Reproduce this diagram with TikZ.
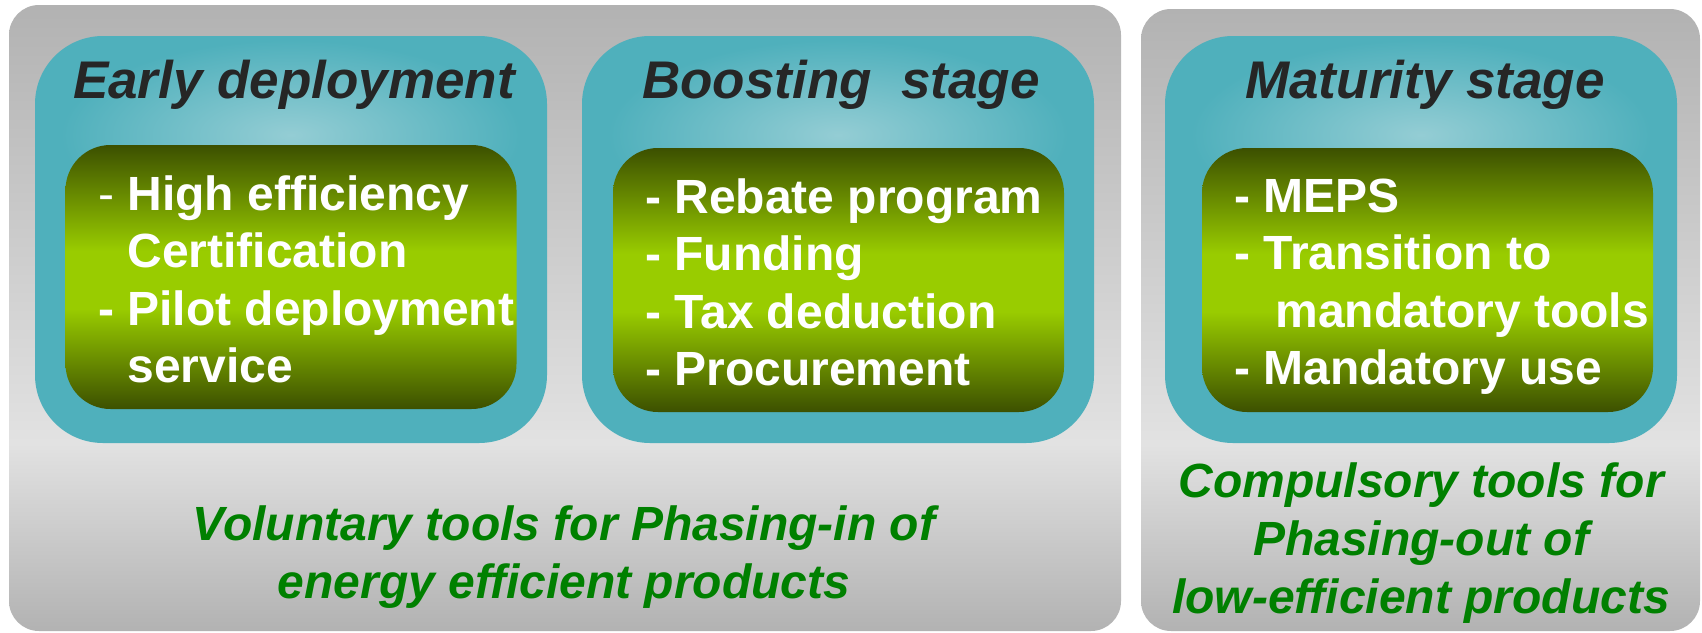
\documentclass[tikz,border=0pt]{standalone}
\usepackage{fontspec}
\setmainfont{Liberation Sans}
\usetikzlibrary{positioning}
\definecolor{panelgray}{RGB}{178,178,178}
\definecolor{panellight}{RGB}{226,226,226}
\definecolor{stageteal}{RGB}{79,176,188}
\definecolor{stageglow}{RGB}{148,205,212}
\definecolor{tooldark}{RGB}{60,80,0}
\definecolor{toolbright}{RGB}{153,204,0}
\definecolor{titleink}{RGB}{38,38,38}
\definecolor{noteink}{RGB}{0,128,0}
\pgfdeclareverticalshading{panelshade}{100bp}{color(0bp)=(panelgray); color(25bp)=(panelgray); color(40bp)=(panellight); color(75bp)=(panelgray); color(100bp)=(panelgray)}
\pgfdeclareverticalshading{toolshade}{100bp}{color(0bp)=(tooldark); color(25bp)=(tooldark); color(44bp)=(toolbright); color(55bp)=(toolbright); color(75bp)=(tooldark); color(100bp)=(tooldark)}
\begin{document}
\begin{tikzpicture}[x=1pt,y=-1pt,
  panel/.style={shade,shading=panelshade,rounded corners=30pt},
  stagebox/.style={fill=stageteal,rounded corners=68pt,minimum width=512pt,minimum height=407pt,inner sep=0pt},
  toolbox/.style={shade,shading=toolshade,rounded corners=45pt,minimum width=451pt,minimum height=264pt,inner sep=0pt},
  stagetitle/.style={anchor=base,inner sep=0pt,text=titleink,font=\fontsize{53}{60}\selectfont\bfseries\itshape},
  toollist/.style={anchor=base west,inner sep=0pt,text=white,font=\fontsize{48}{57.5}\selectfont\bfseries},
  phasenote/.style={anchor=base,inner sep=0pt,text=noteink,font=\fontsize{48}{58}\selectfont\bfseries\itshape}]
\useasboundingbox (0,0) rectangle (1702,632);
% grey panels
\path[panel] (9,5) rectangle (1121,631);
\path[panel] (1141,9) rectangle (1700,631);
% stage boxes with glow and tool box
\foreach \name/\cx/\gx/\gy in {early/291/291/277,boosting/838/838.5/280,maturity/1421/1427.5/280}{
  \node[stagebox] (\name) at (\cx,239.5) {};
  \begin{scope}
    \clip[rounded corners=68pt] (\name.south west) rectangle (\name.north east);
    \shade[inner color=stageglow,outer color=stageteal] (\cx,135) ellipse (230 and 95);
  \end{scope}
  \node[toolbox] (\name-tools) at (\gx,\gy) {};
}
% titles
\node[stagetitle] (early-title) at (294,98) {Early deployment};
\node[stagetitle] (boosting-title) at (841,98) {Boosting\ \ stage};
\node[stagetitle] (maturity-title) at (1425,98) {Maturity stage};
% tool lists
\node[toollist] (early-list) at (98,210) {\begin{tabular}[t]{@{}l@{}}{\mdseries -} High efficiency\\ \phantom{- }Certification\\ - Pilot deployment\\ \phantom{- }service\end{tabular}};
\node[toollist] (boosting-list) at (645,213) {\begin{tabular}[t]{@{}l@{}}- Rebate program\\ - Funding\\ - Tax deduction\\ - Procurement\end{tabular}};
\node[toollist] (maturity-list) at (1234,212) {\begin{tabular}[t]{@{}l@{}}- MEPS\\ - Transition to\\ \phantom{- }\hspace{12pt}mandatory tools\\ - Mandatory use\end{tabular}};
% notes
\node[phasenote] (voluntary-note) at (564,540) {\begin{tabular}[t]{@{}c@{}}Voluntary tools for Phasing-in of\\ energy efficient products\end{tabular}};
\node[phasenote] (compulsory-note) at (1421,497) {\begin{tabular}[t]{@{}c@{}}Compulsory tools for\\ Phasing-out of\\ low-efficient products\end{tabular}};
\end{tikzpicture}
\end{document}
